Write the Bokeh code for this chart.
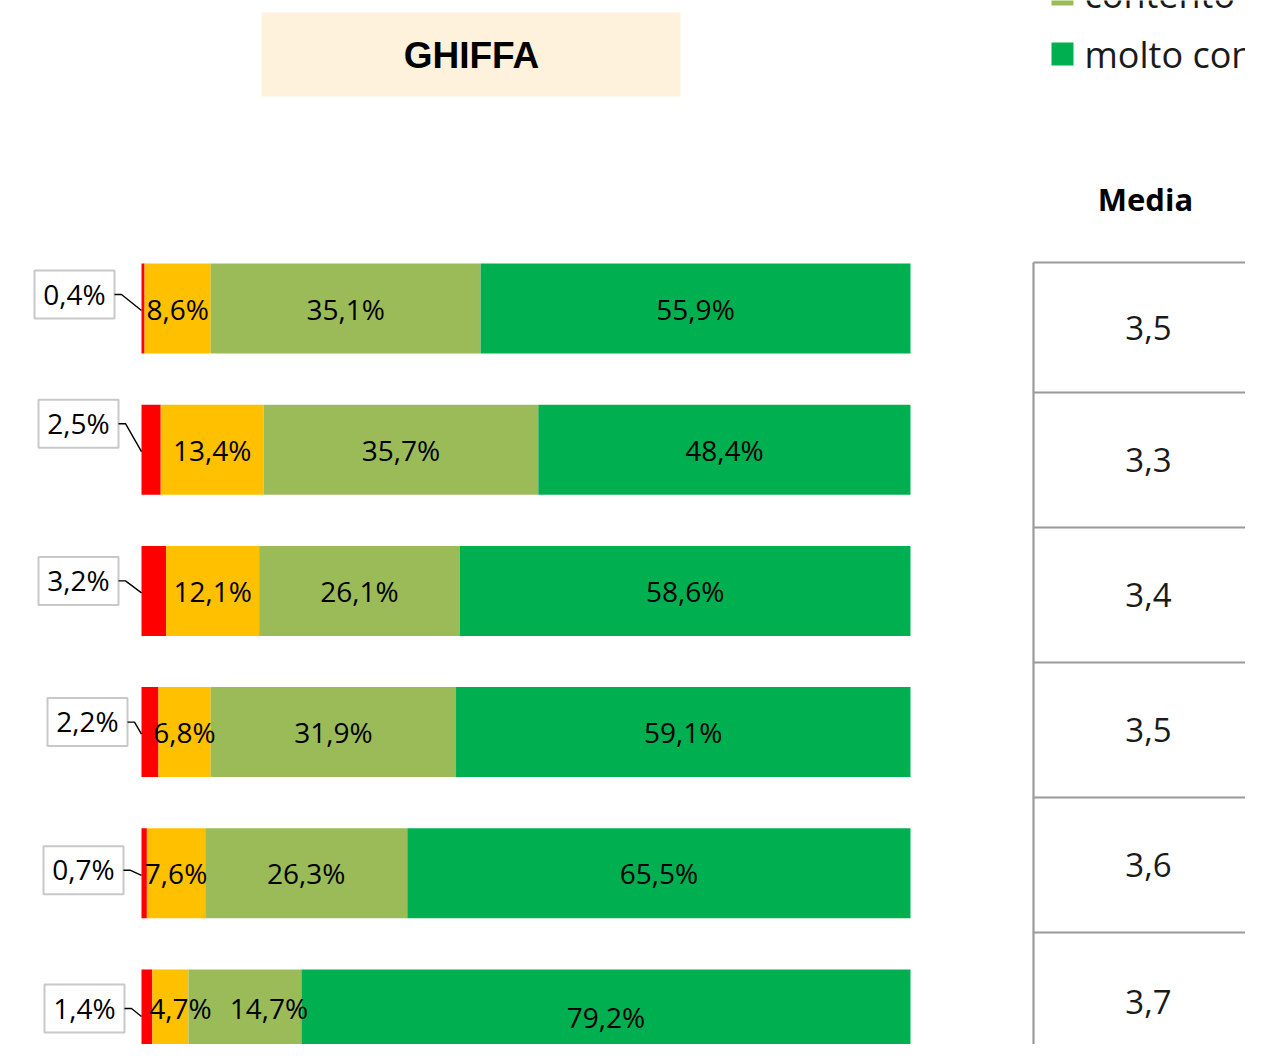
from bokeh.plotting import figure
from bokeh.models import Range1d, ColumnDataSource
from bokeh.core.properties import value
from bokeh.embed import file_html
from bokeh.resources import INLINE

# ---------------- data ----------------
rows = [0, 1, 2, 3, 4, 5]
per_niente = [0.4, 2.5, 3.2, 2.2, 0.7, 1.4]
poco = [8.6, 13.4, 12.1, 6.8, 7.6, 4.7]
contento = [35.1, 35.7, 26.1, 31.9, 26.3, 14.7]
molto = [55.9, 48.4, 58.6, 59.1, 65.5, 79.2]
media = [3.5, 3.3, 3.4, 3.5, 3.6, 3.7]
series_names = ["per niente contento", "poco contento", "contento", "molto contento"]
series_colors = ["#FF0000", "#FFC000", "#9BBB59", "#00B050"]
title_text = "GHIFFA"
media_title = "Media"

# ---------------- layout constants (picture pixels) ----------------
FIG_W, FIG_H, ORIGIN = 1245, 1044, 0
X0_PX, X100_PX = 141.0, 910.0
ROW0_PX, ROW_STEP = 308.0, 141.2
SX = (X100_PX - X0_PX) / 100.0
BAR_H = 90.0 / ROW_STEP


def px2x(X):
    return (X - X0_PX) / SX


def px2y(Y):
    return (Y - ROW0_PX) / ROW_STEP


def fmt(v, d=1):
    return f"{v:.{d}f}".replace(".", ",")


p = figure(width=FIG_W, height=FIG_H, output_backend="svg", toolbar_location=None,
           x_range=Range1d(px2x(ORIGIN), px2x(ORIGIN + FIG_W)),
           y_range=Range1d(px2y(ORIGIN + FIG_H), px2y(ORIGIN)),
           min_border=0, outline_line_color=None)
p.axis.visible = False
p.grid.visible = False
p.background_fill_color = "white"
p.border_fill_color = "white"

FONT = value("Open Sans")

# ---------------- stacked bars (100%) ----------------
series = [per_niente, poco, contento, molto]
totals = [sum(s[i] for s in series) for i in range(len(rows))]
starts = [0.0] * len(rows)
segs = []
for k, s in enumerate(series):
    left = list(starts)
    right = [starts[i] + s[i] / totals[i] * 100 for i in range(len(rows))]
    src = ColumnDataSource(dict(y=rows, left=left, right=right,
                                mid=[(l + r) / 2 for l, r in zip(left, right)],
                                lab=[fmt(v) + "%" for v in s]))
    p.hbar(y="y", left="left", right="right", height=BAR_H, source=src,
           fill_color=series_colors[k], line_color=None)
    segs.append(src)
    starts = right

# inside labels (poco, contento, molto)
x_adj = {(1, 5): 10, (2, 5): 24}
y_adj = {(1, 5): -7, (2, 5): -7, (3, 5): 2}
for k in (1, 2, 3):
    d = segs[k].data
    for i in rows:
        p.text(x=[d["mid"][i]], y=[rows[i]], text=[d["lab"][i]],
               x_offset=x_adj.get((k, i), 0), y_offset=y_adj.get((k, i), 0),
               text_font=FONT, text_font_size="28px", text_color="black",
               text_align="center", text_baseline="middle")

# callouts for the red segment
box_cx = [74, 78, 78, 87, 83, 84]
box_dy = [-14, -26, -10, -10, -3, -6]
BOX_W, BOX_H = 80.0, 48.0
bx = [px2x(c) for c in box_cx]
by = [rows[i] + box_dy[i] / ROW_STEP for i in rows]
p.rect(x=bx, y=by, width=BOX_W / SX, height=BOX_H / ROW_STEP,
       fill_color="white", line_color="#C8C8C8", line_width=2)
p.text(x=bx, y=[b - 1 / ROW_STEP for b in by], text=[fmt(v) + "%" for v in per_niente],
       text_font=FONT, text_font_size="28px", text_color="black",
       text_align="center", text_baseline="middle")
xs, ys = [], []
for i in rows:
    rx = px2x(box_cx[i] + BOX_W / 2)
    xs.append([rx, rx + 7 / SX, 0])
    ys.append([by[i], by[i], rows[i] + 2 / ROW_STEP])
p.multi_line(xs=xs, ys=ys, line_color="black", line_width=1.4)

# ---------------- title box ----------------
p.quad(left=[px2x(261)], right=[px2x(680)], top=[px2y(12)], bottom=[px2y(96)],
       fill_color="#FEF2DC", line_color=None)
p.text(x=[px2x(471)], y=[px2y(55)], text=[title_text], text_font=value("Liberation Sans"),
       text_font_style="bold", text_font_size="37px", text_color="black",
       text_align="center", text_baseline="middle")

# ---------------- legend (partially visible, as in the source) ----------------
leg_sq_top = [-18, 42]
leg_names = [series_names[2], series_names[3]]
leg_cols = [series_colors[2], series_colors[3]]
p.quad(left=[px2x(1051)] * 2, right=[px2x(1073)] * 2,
       top=[px2y(t) for t in leg_sq_top], bottom=[px2y(t + 23) for t in leg_sq_top],
       fill_color=leg_cols, line_color=None)
p.text(x=[px2x(1084)] * 2, y=[px2y(t + 12) for t in leg_sq_top], text=leg_names, text_font=FONT,
       text_font_size="36px", text_color="#1a1a1a", text_align="left", text_baseline="middle")

# ---------------- media table ----------------
TL = 1033
bounds = [262, 392, 527, 662, 797, 932, 1070]
p.segment(x0=[px2x(TL)] * 6, x1=[px2x(1300)] * 6,
          y0=[px2y(b) for b in bounds[:-1]], y1=[px2y(b) for b in bounds[:-1]],
          line_color="#9A9A9A", line_width=2.2)
p.segment(x0=[px2x(TL)], x1=[px2x(TL)], y0=[px2y(bounds[0])], y1=[px2y(bounds[-1])],
          line_color="#9A9A9A", line_width=2.2)
mids = [px2y((bounds[j] + bounds[j + 1]) / 2) for j in range(6)]
p.text(x=[px2x(1148)] * 6, y=mids, text=[fmt(m) for m in media], text_font=FONT,
       text_font_size="33px", text_color="#1a1a1a", text_align="center", text_baseline="middle")
p.text(x=[px2x(1145)], y=[px2y(198)], text=[media_title], text_font=FONT,
       text_font_style="bold", text_font_size="31px", text_color="black",
       text_align="center", text_baseline="middle")

open("out.html", "w").write(file_html(p, INLINE))
